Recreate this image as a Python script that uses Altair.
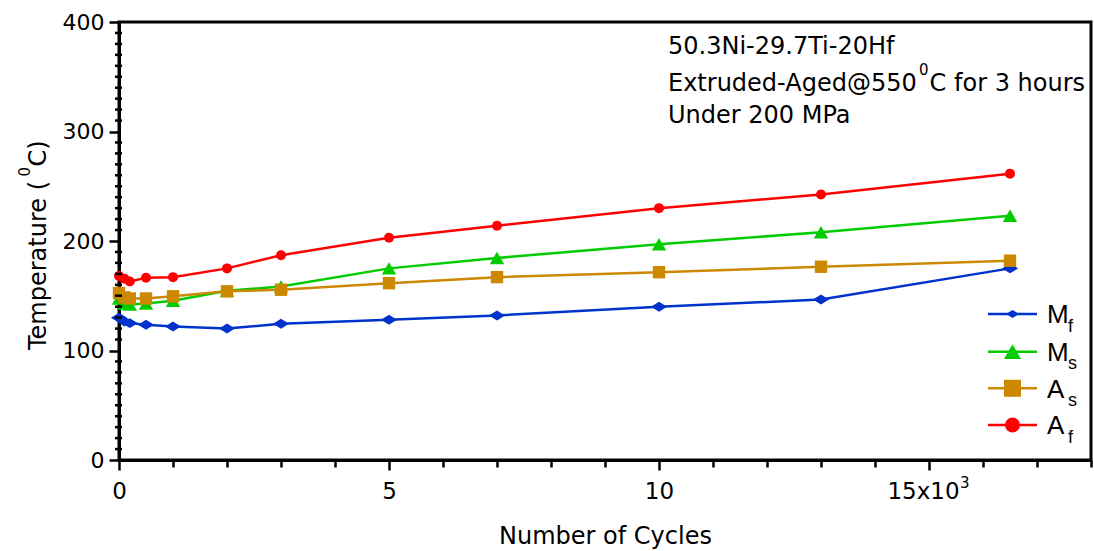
import altair as alt
import pandas as pd

# ---- data ----
cycles = [0, 100, 200, 500, 1000, 2000, 3000, 5000, 7000, 10000, 13000, 16500]
mf = [130, 126.5, 125, 123.5, 122, 120, 124.5, 128, 132, 140, 146.5, 175]
ms = [147.5, 143, 142, 143, 145.5, 154.5, 158.5, 175, 184.5, 197, 208, 223]
as_ = [152.5, 148.5, 147.5, 147.5, 149.5, 154, 155.5, 161.5, 167, 171.5, 176.5, 182]
af = [168, 165.5, 163, 166.5, 167, 175, 187, 203, 214, 230, 242.5, 261.5]

series_names = ["Mf", "Ms", "As", "Af"]
legend_main = ["M", "M", "A", "A"]
legend_sub = ["f", "s", "s", "f"]
colors = ["#0033cc", "#00cc00", "#cc8800", "#ff0000"]
diamond = "M-1,0L0,-0.62L1,0L0,0.62Z"
shapes = [diamond, "triangle-up", "square", "circle"]
data_sizes = [260, 100, 81, 81]
legend_sizes = [170, 289, 289, 225]

x_ticks = list(range(0, 18001, 1000))
y_major = list(range(0, 401, 100))
y_minor = [v for v in range(0, 401, 10) if v % 100 != 0]

ann_line1 = "50.3Ni-29.7Ti-20Hf"
ann_line2 = ["Extruded-Aged@550", "0", "C for 3 hours"]
ann_line3 = "Under 200 MPa"
y_title = ["Temperature (", "0", "C)"]
x_title = "Number of Cycles"

FONT = "DejaVu Sans"
LEG_FONT = "Liberation Sans"

rows = []
for name, vals in zip(series_names, [mf, ms, as_, af]):
    for c, v in zip(cycles, vals):
        rows.append({"cycles": c, "temp": v, "series": name})
df = pd.DataFrame(rows)

W, H = 972, 438

x_enc = alt.X(
    "cycles:Q",
    scale=alt.Scale(domain=[0, 18000], nice=False),
    axis=alt.Axis(
        values=x_ticks,
        labelExpr="datum.value==0?'0':datum.value==5000?'5':datum.value==10000?'10':datum.value==15000?'15x10':''",
        labelOffset={"condition": {"test": "datum.value === 15000", "value": -6}, "value": 0},
        tickSize={"condition": {"test": "datum.value % 5000 === 0", "value": 10}, "value": 7},
        title=x_title,
        titleY=83,
        titleBaseline="alphabetic",
        labelPadding=10,
        labelFontSize=23,
        titleFontSize=24,
        labelOverlap=False,
        labelFlush=False,
    ),
)
y_enc = alt.Y(
    "temp:Q",
    scale=alt.Scale(domain=[0, 400], nice=False),
    axis=alt.Axis(
        values=y_major,
        tickSize=10,
        title="",
        labelPadding=5,
        labelFontSize=22,
        labelOverlap=False,
        labelFlush=False,
    ),
)

color = alt.Color("series:N", scale=alt.Scale(domain=series_names, range=colors), legend=None)
shape = alt.Shape("series:N", scale=alt.Scale(domain=series_names, range=shapes), legend=None)
size = alt.Size("series:N", scale=alt.Scale(domain=series_names, range=data_sizes), legend=None)

lines = alt.Chart(df).mark_line(strokeWidth=2.5).encode(x=x_enc, y=y_enc, color=color, detail="series:N")
points = alt.Chart(df).mark_point(filled=True, opacity=1).encode(
    x="cycles:Q", y="temp:Q", color=color, shape=shape, size=size
)

# minor y ticks (crossing the axis line), placed through the y scale
minor_df = pd.DataFrame({"temp": y_minor})
minor = alt.Chart(minor_df).mark_rule(color="black", strokeWidth=2.5).encode(
    y="temp:Q", x=alt.value(-4), x2=alt.value(3)
)

one = pd.DataFrame({"a": [0]})
layers = [lines, points, minor]


def txt(t, x, y, size, align="left", angle=0, font=FONT):
    kw = dict(align=align, baseline="alphabetic", fontSize=size, font=font, color="black", text=t)
    if angle:
        kw["angle"] = angle
    return alt.Chart(one).mark_text(**kw).encode(x=alt.value(x), y=alt.value(y))


# superscript "3" of the 15x10^3 tick label, placed from the x scale
layers.append(
    alt.Chart(one).mark_text(align="left", baseline="alphabetic", fontSize=15, font=FONT, color="black", text="3", dx=31)
    .encode(x=alt.datum(15000), y=alt.value(H + 28))
)

# annotation text
layers.append(txt(ann_line1, 549, 32, 24))
layers.append(txt(ann_line2[0], 549, 68.5, 24))
layers.append(txt(ann_line2[1], 800, 53, 15))
layers.append(txt(ann_line2[2], 966, 68.5, 24, align="right"))
layers.append(txt(ann_line3, 549, 101, 24))

# y axis title with superscript, rotated
layers.append(txt(y_title[0], -73, 328, 24, angle=270))
layers.append(txt(y_title[1], -89, 154.4, 15, angle=270))
layers.append(txt(y_title[2], -73, 144.5, 24, angle=270))

# manual legend (to allow subscripts)
row_y = [292, 329.7, 366.3, 403]
for i in range(4):
    ry = row_y[i]
    layers.append(
        alt.Chart(one).mark_rule(color=colors[i], strokeWidth=2.5)
        .encode(x=alt.value(869), x2=alt.value(918), y=alt.value(ry))
    )
    layers.append(
        alt.Chart(one).mark_point(filled=True, opacity=1, color=colors[i], shape=shapes[i], size=legend_sizes[i])
        .encode(x=alt.value(893.5), y=alt.value(ry))
    )
    layers.append(txt(legend_main[i], 928, ry + 9.3, 26, font=LEG_FONT))
    layers.append(txt(legend_sub[i], 949, ry + 17.7, 18, font=LEG_FONT))

chart = (
    alt.layer(*layers)
    .properties(
        width=W,
        height=H,
        padding={"left": 119, "top": 22, "right": 3, "bottom": 91},
        autosize=alt.AutoSizeParams(type="none"),
        background="white",
    )
    .configure_view(stroke="black", strokeWidth=3)
    .configure_axis(
        domainColor="black",
        domainWidth=3,
        tickColor="black",
        tickWidth=2.5,
        labelColor="black",
        titleColor="black",
        labelFont=FONT,
        titleFont=FONT,
        titleFontWeight="normal",
        grid=False,
        labelFlush=False,
        labelOverlap=False,
    )
)

chart.save("out.html", embed_options={"renderer": "svg", "actions": False})
